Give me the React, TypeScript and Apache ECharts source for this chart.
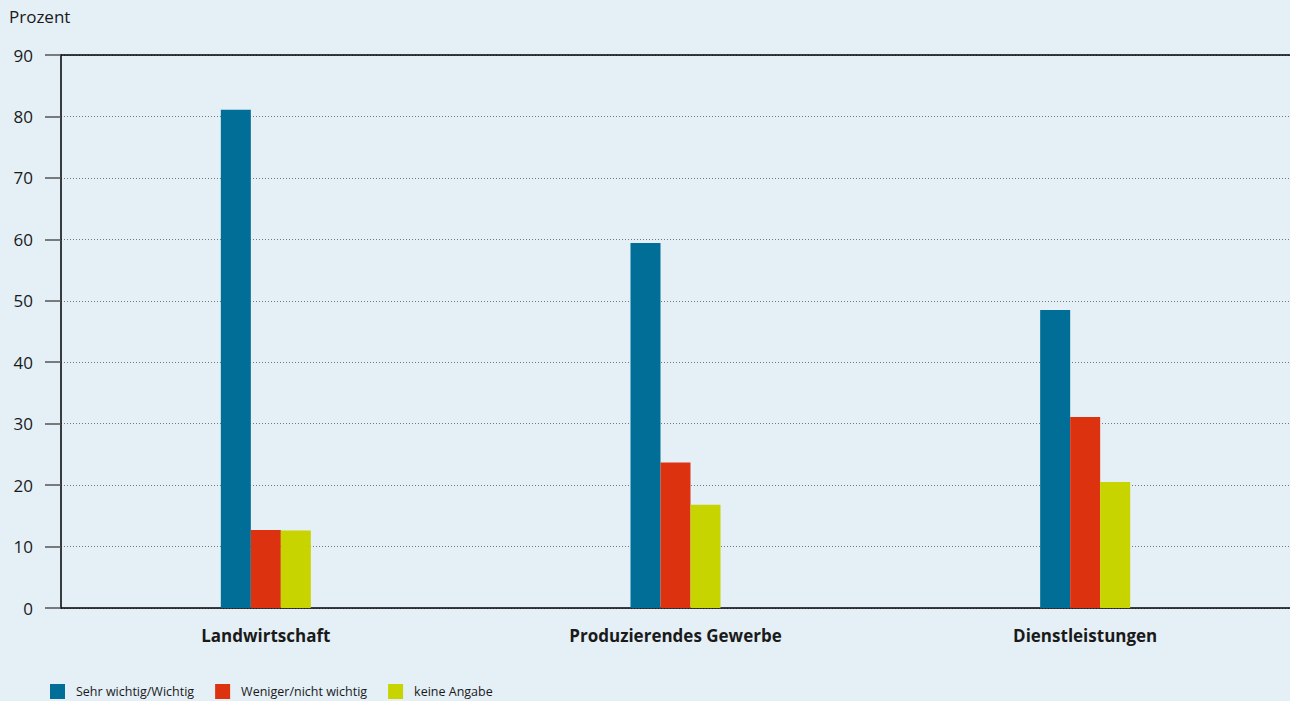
import React, { useEffect, useRef } from "react";
import * as echarts from "echarts";

const categories = ["Landwirtschaft", "Produzierendes Gewerbe", "Dienstleistungen"];
const seriesNames = ["Sehr wichtig/Wichtig", "Weniger/nicht wichtig", "keine Angabe"];
const sehrWichtig = [81.1, 59.4, 48.5];
const wenigerWichtig = [12.7, 23.7, 31.1];
const keineAngabe = [12.6, 16.8, 20.5];
const colors = ["#006e97", "#dd3210", "#c8d400"];
const yTicks = { min: 0, max: 90, interval: 10 };

export default function App() {
  const ref = useRef<HTMLDivElement>(null);
  useEffect(() => {
    if (!ref.current) return;
    const chart = echarts.init(ref.current, null, { renderer: "svg" });
    const font = "'Open Sans', 'Noto Sans', sans-serif";
    const values = [sehrWichtig, wenigerWichtig, keineAngabe];
    chart.setOption({
      animation: false,
      backgroundColor: "#e4eff6",
      textStyle: { fontFamily: font },
      title: {
        text: "Prozent",
        left: 4,
        top: 3,
        textStyle: { fontSize: 17, fontWeight: "normal", color: "#1a1a1a", fontFamily: font },
      },
      legend: {
        left: 45,
        top: 679,
        padding: 5,
        itemWidth: 15,
        itemHeight: 15,
        itemGap: 21,
        icon: "rect",
        data: seriesNames,
        textStyle: {
          fontSize: 12.5,
          lineHeight: 15,
          color: "#1a1a1a",
          fontFamily: font,
          padding: [0, 0, 0, 6],
        },
      },
      grid: { left: 61, right: 0, top: 55, bottom: 93, containLabel: false },
      xAxis: [
        {
          type: "category",
          data: categories,
          axisLine: { lineStyle: { color: "#000", width: 1.5 } },
          axisTick: { show: false },
          axisLabel: {
            margin: 19,
            fontSize: 17,
            fontWeight: "bold",
            color: "#1a1a1a",
            fontFamily: font,
          },
        },
        {
          type: "category",
          position: "top",
          data: categories,
          axisLine: { show: true, lineStyle: { color: "#000", width: 1.5 } },
          axisTick: { show: false },
          axisLabel: { show: false },
        },
      ],
      yAxis: {
        type: "value",
        min: yTicks.min,
        max: yTicks.max,
        interval: yTicks.interval,
        axisLine: { show: true, lineStyle: { color: "#000", width: 1.5 } },
        axisTick: { show: true, length: 16, lineStyle: { color: "#555", width: 1.5 } },
        axisLabel: { margin: 28, fontSize: 17, color: "#1a1a1a", fontFamily: font },
        splitLine: { show: true, lineStyle: { color: "#777", type: [1, 2], width: 1 } },
      },
      series: seriesNames.map((name, i) => ({
        name,
        type: "bar",
        data: values[i],
        barWidth: 30,
        barGap: "0%",
        itemStyle: { color: colors[i] },
      })),
    });
    return () => chart.dispose();
  }, []);
  return (
    <div
      ref={ref}
      style={{ position: "fixed", left: 0, top: 0, width: 1290, height: 701 }}
    />
  );
}
